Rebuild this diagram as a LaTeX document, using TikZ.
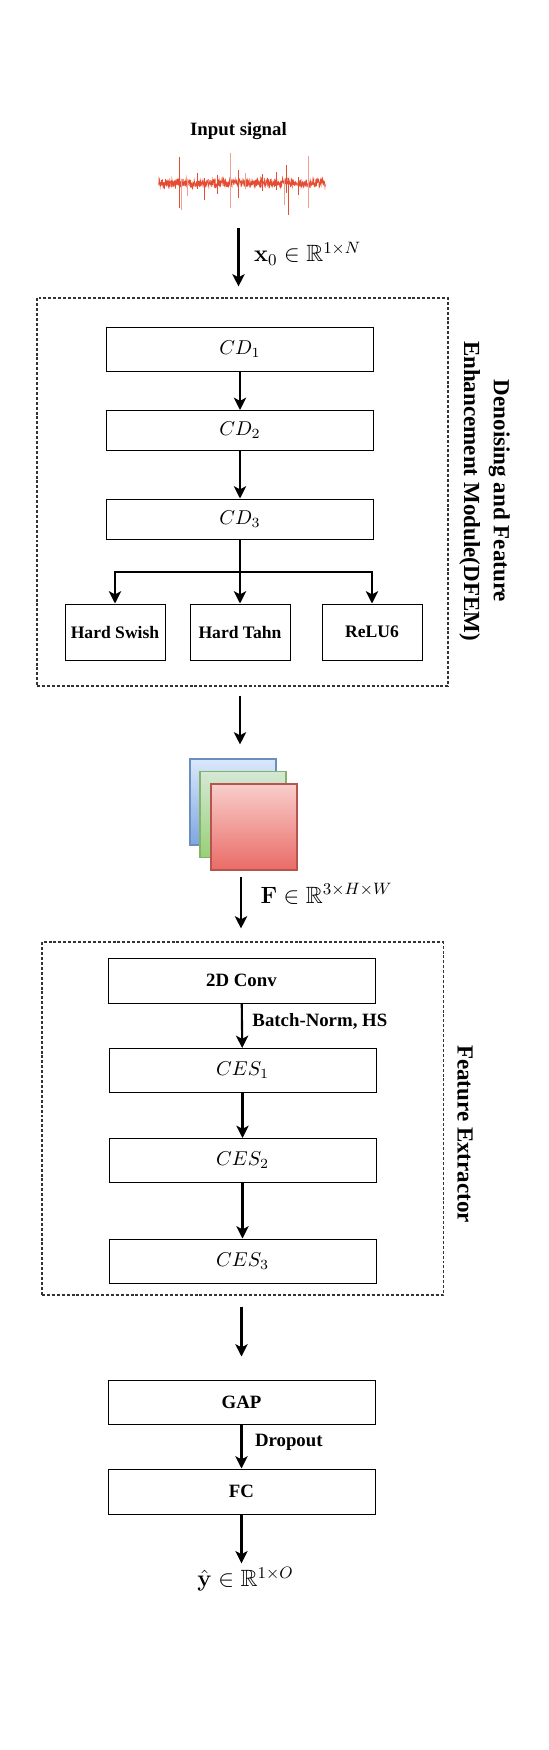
\documentclass[tikz,border=0pt]{standalone}
\usepackage{fix-cm}
\usepackage[no-math]{fontspec}
\setmainfont{Liberation Serif}
\usepackage{amssymb}
\usepackage{amsmath}
\usepackage{tikz}
\usetikzlibrary{arrows.meta,positioning}
\definecolor{sigred}{RGB}{228,76,52}
\definecolor{siglight}{RGB}{242,160,150}
\definecolor{bluetop}{HTML}{DAE8FC}
\definecolor{bluebot}{HTML}{7EA6E0}
\definecolor{blueline}{HTML}{6C8EBF}
\definecolor{greentop}{HTML}{D5E8D4}
\definecolor{greenbot}{HTML}{97D077}
\definecolor{greenline}{HTML}{82B366}
\definecolor{redtop}{HTML}{F8CECC}
\definecolor{redbot}{HTML}{EA6B66}
\definecolor{redline}{HTML}{B85450}
\tikzstyle{blk}=[draw,line width=0.55pt,minimum width=5.34cm,minimum height=0.88cm,inner sep=0pt]
\tikzstyle{act}=[draw,line width=0.55pt,minimum width=2cm,minimum height=1.12cm,inner sep=0pt,font=\fontsize{10}{12}\selectfont\bfseries]
\tikzstyle{arr}=[line width=1.2pt,-{Stealth[length=7pt,width=7pt,inset=1.8pt]}]
\tikzstyle{module}=[draw=black!80,dash pattern=on 1.7pt off 1.1pt,line width=0.6pt,inner sep=0pt]
\tikzstyle{modtitle}=[rotate=-90,align=center,font=\fontsize{13.1}{17}\selectfont\bfseries]
\tikzstyle{lbl}=[inner sep=0pt,font=\fontsize{10.7}{12}\selectfont\bfseries]
\tikzstyle{mathlbl}=[inner sep=0pt,font=\fontsize{13.4}{16}\selectfont]
\tikzstyle{cdtext}=[font=\fontsize{11.4}{14}\selectfont]
\tikzstyle{fmapbox}=[minimum size=1.72cm,line width=0.6pt,inner sep=0pt]
\newcommand{\fmap}[5]{
  \node[fmapbox,draw=#3,top color=#4,bottom color=#5] (#1) at (#2) {};
}

\begin{document}
\begin{tikzpicture}
\useasboundingbox (0,0) rectangle (10.96,35);
% input
\node[lbl,anchor=base] (insig) at (4.77,32.28) {Input signal};
\pgfmathsetseed{11}
\draw[sigred,line width=0.4pt]
  plot[domain=3.17:6.52,samples=600] (\x,{31.34+0.07*rand+0.06*rand*rnd});
\foreach \sx/\st/\sb in {3.58/0.52/-0.50,4.08/0.10/-0.34,4.76/0.26/-0.30,
    5.72/0.36/-0.20,5.76/0.10/-0.64,5.96/0.12/-0.24,3.94/0.20/-0.12,
    4.34/0.16/-0.22,5.24/0.18/-0.16,5.52/0.22/-0.14}
  \draw[sigred,line width=0.5pt] (\sx,31.34+\st) -- (\sx,31.34+\sb);
\foreach \sx/\st/\sb in {3.62/0.08/-0.54,3.74/0.06/-0.26,4.60/0.60/-0.50,
    6.16/0.54/-0.50,5.68/0.06/-0.44,4.90/0.20/-0.12}
  \draw[siglight,line width=0.5pt] (\sx,31.34+\st) -- (\sx,31.34+\sb);
\coordinate (x0top) at (4.77,30.44);

% DFEM
\node[module,minimum width=8.22cm,minimum height=7.76cm] (dfem) at (4.85,25.16) {};
\node[modtitle] (dfemtitle) at (9.69,25.18) {Denoising and Feature\\Enhancement Module(DFEM)};
\draw[arr,shorten >=0.22cm] (x0top) -- node[mathlbl,anchor=west,xshift=8.3pt,pos=0.37]
  {$\mathbf{x}_0\in\mathbb{R}^{1\times N}$} (x0top |- dfem.north);
\node[blk,cdtext] (cd1) at (4.8,28.02) {$CD_1$};
\node[blk,cdtext,minimum height=0.8cm] (cd2) at (4.8,26.39) {$CD_2$};
\node[blk,cdtext,minimum height=0.8cm] (cd3) at (4.8,24.62) {$CD_3$};
\coordinate (split) at (4.8,23.56);
\node[act] (hswish) at (2.30,22.36) {Hard Swish};
\node[act] (htahn) at (4.80,22.36) {Hard Tahn};
\node[act] (relu) at (7.44,22.36) {ReLU6};
\draw[arr] (cd1) -- (cd2);
\draw[arr] (cd2) -- (cd3);
\draw[arr] (cd3) -- (htahn);
\draw[arr] (split) -| (hswish);
\draw[arr] (split) -| (relu);

% feature maps
\fmap{fmb}{4.66,18.96}{blueline}{bluetop}{bluebot}
\fmap{fmg}{4.86,18.71}{greenline}{greentop}{greenbot}
\fmap{fmr}{5.08,18.46}{redline}{redtop}{redbot}
\draw[arr,shorten <=0.18cm,shorten >=0.28cm] (cd3 |- dfem.south) -- (cd3 |- fmb.north);
\coordinate (ftop) at (4.82,17.46);

% feature extractor
\node[module,minimum width=8.03cm,minimum height=7.06cm] (fe) at (4.855,12.63) {};
\node[modtitle] (fetitle) at (9.30,12.32) {Feature Extractor};
\draw[arr,shorten >=0.26cm] (ftop) -- node[mathlbl,anchor=west,xshift=10.5pt,pos=0.26]
  {$\mathbf{F}\in\mathbb{R}^{3\times H\times W}$} (ftop |- fe.north);
\node[blk,lbl,minimum height=0.9cm] (conv) at (4.83,15.39) {2D Conv};
\node[blk,cdtext] (ces1) at (4.85,13.59) {$CES_1$};
\node[blk,cdtext] (ces2) at (4.85,11.79) {$CES_2$};
\node[blk,cdtext] (ces3) at (4.85,9.78) {$CES_3$};
\draw[arr] (conv) -- node[lbl,anchor=west,xshift=5.4pt,pos=0.40] {Batch-Norm, HS} (ces1);
\draw[arr] (ces1) -- (ces2);
\draw[arr] (ces2) -- (ces3);

% head
\node[blk,lbl] (gap) at (4.83,6.96) {GAP};
\node[blk,lbl,minimum height=0.9cm] (fc) at (4.83,5.17) {FC};
\draw[arr,shorten <=0.22cm,shorten >=0.46cm] (gap |- fe.south) -- (gap);
\draw[arr] (gap) -- node[lbl,anchor=west,xshift=7.1pt,pos=0.40] {Dropout} (fc);
\node[mathlbl,anchor=base] (yhat) at (4.91,3.26) {$\hat{\mathbf{y}}\in\mathbb{R}^{1\times O}$};
\draw[arr,shorten >=2pt] (fc) -- (fc |- yhat.north);
\end{tikzpicture}
\end{document}
